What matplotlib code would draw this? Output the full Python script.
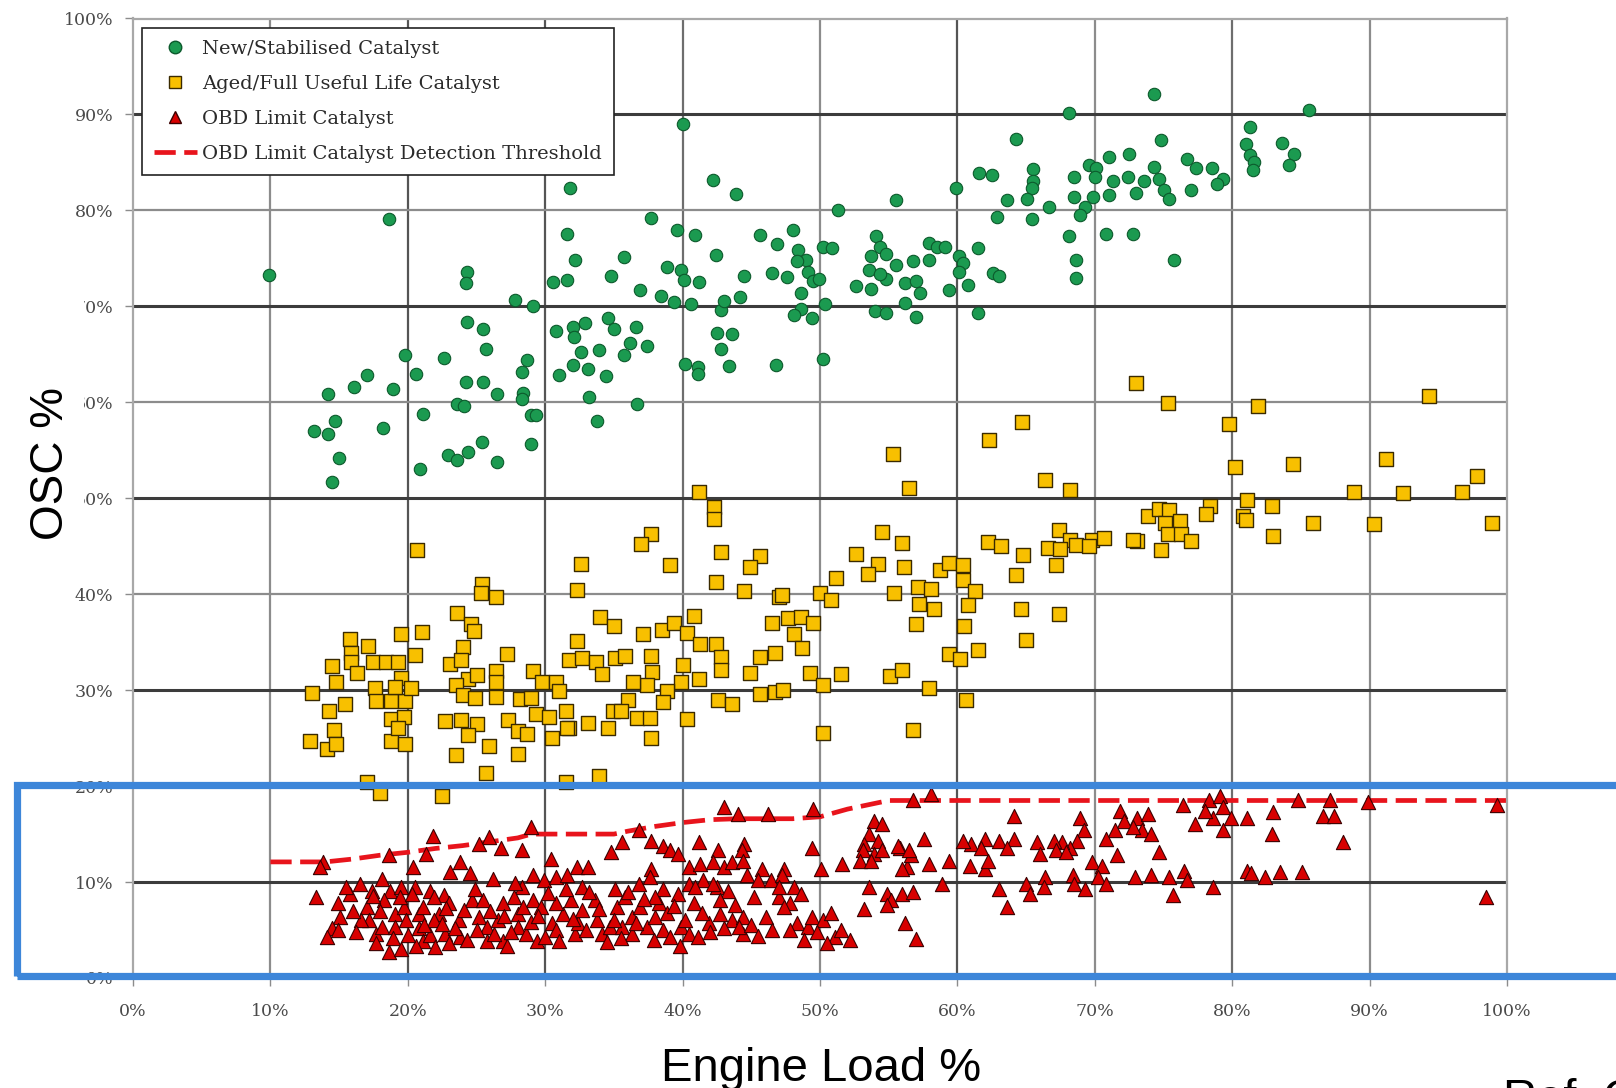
import numpy as np
import matplotlib.pyplot as plt
from matplotlib.lines import Line2D
from matplotlib.patches import Rectangle

# (engine load %, OSC %) pairs for each catalyst condition
new_cat = np.array([
    (40.0, 89.0), (31.8, 82.3), (18.6, 79.1), (9.9, 73.3), (42.2, 83.2), (43.9, 81.7), (37.7, 79.2),
    (39.6, 78.0), (40.9, 77.4), (31.6, 77.5), (32.2, 74.8), (35.7, 75.1), (34.8, 73.2), (30.6, 72.5),
    (31.6, 72.7), (42.4, 75.4), (38.9, 74.1), (39.9, 73.8), (40.1, 72.7), (41.2, 72.5), (36.9, 71.7),
    (38.4, 71.1), (39.4, 70.5), (40.6, 70.2), (42.8, 69.6), (43.0, 70.6), (44.2, 71.0), (44.5, 73.2),
    (42.5, 67.2), (43.6, 67.1), (42.8, 65.6), (43.4, 63.8), (40.2, 64.0), (41.1, 63.7), (41.1, 63.0),
    (24.3, 73.6), (24.2, 72.4), (27.8, 70.7), (29.1, 70.0), (24.3, 68.4), (25.5, 67.6), (25.7, 65.6),
    (30.8, 67.4), (32.0, 67.8), (32.9, 68.3), (32.1, 66.8), (34.6, 68.8), (35.0, 67.6), (36.6, 67.8),
    (36.2, 66.2), (37.4, 65.9), (35.7, 64.9), (32.6, 65.2), (33.9, 65.4), (32.0, 63.9), (33.1, 63.5),
    (31.0, 62.8), (34.4, 62.7), (33.2, 60.6), (33.8, 58.1), (36.7, 59.8), (28.7, 64.4), (28.3, 63.2),
    (28.4, 61.0), (28.3, 60.3), (29.0, 58.7), (29.3, 58.7), (29.0, 55.7), (26.5, 60.9), (25.5, 62.1),
    (24.2, 62.1), (23.6, 59.8), (24.1, 59.6), (22.6, 64.6), (21.1, 58.8), (20.6, 63.0), (19.8, 64.9),
    (18.9, 61.4), (18.2, 57.3), (17.0, 62.8), (16.1, 61.6), (14.2, 60.9), (14.7, 58.1), (14.2, 56.7),
    (13.2, 57.0), (15.0, 54.2), (14.5, 51.7), (20.9, 53.0), (22.9, 54.5), (23.6, 54.0), (24.4, 54.8),
    (25.4, 55.9), (26.5, 53.8),
    (74.3, 92.1), (68.1, 90.2), (85.6, 90.5), (64.3, 87.4), (74.8, 87.3), (81.3, 88.7), (81.0, 86.9),
    (81.3, 85.8), (81.6, 85.0), (81.5, 84.2), (83.6, 87.0), (84.5, 85.9), (84.1, 84.7), (61.6, 83.9),
    (62.5, 83.7), (65.5, 84.3), (65.5, 83.1), (65.4, 82.3), (65.1, 81.2), (63.6, 81.1), (66.7, 80.4),
    (59.9, 82.3), (62.9, 79.3), (65.4, 79.1), (68.5, 83.5), (69.6, 84.7), (70.1, 84.4), (70.0, 83.5),
    (71.0, 85.6), (72.5, 85.9), (71.3, 83.1), (71.0, 81.6), (69.9, 81.4), (68.5, 81.4), (69.3, 80.4),
    (68.9, 79.5), (72.4, 83.5), (73.0, 81.8), (73.6, 83.1), (74.3, 84.5), (74.7, 83.3), (75.0, 82.1),
    (75.4, 81.2), (76.7, 85.4), (77.4, 84.4), (78.5, 84.4), (79.3, 83.3), (78.9, 82.7), (77.0, 82.1),
    (68.1, 77.3), (68.6, 74.8), (68.6, 73.0), (70.8, 77.5), (72.8, 77.5), (75.8, 74.8),
    (51.3, 80.0), (55.5, 81.1), (45.6, 77.4), (48.0, 78.0), (46.9, 76.5), (48.4, 75.9), (49.0, 74.8),
    (48.3, 74.7), (49.1, 73.6), (49.5, 72.6), (49.9, 72.8), (50.2, 76.2), (50.9, 76.1), (46.5, 73.5),
    (47.6, 73.1), (48.6, 71.4), (48.6, 69.7), (48.1, 69.1), (49.4, 68.8), (50.4, 70.2), (46.8, 63.9),
    (50.2, 64.5), (54.1, 77.3), (54.4, 76.2), (53.7, 75.2), (54.8, 75.5), (55.5, 74.3), (53.6, 73.8),
    (54.8, 72.8), (54.4, 73.4), (52.6, 72.1), (53.7, 71.8), (56.2, 72.4), (57.0, 72.6), (57.3, 71.4),
    (56.2, 70.3), (54.0, 69.5), (54.8, 69.3), (57.0, 68.9), (57.9, 76.6), (58.5, 76.2), (59.1, 76.2),
    (57.9, 74.8), (56.8, 74.7), (60.1, 75.2), (60.4, 74.5), (60.1, 73.6), (59.4, 71.7), (60.8, 72.2),
    (61.5, 76.1), (62.6, 73.5), (63.0, 73.2), (61.5, 69.3),
])

aged_cat = np.array([
    (41.2, 50.6), (42.3, 49.1), (42.3, 47.8), (37.7, 46.3), (37.0, 45.2), (20.7, 44.6), (32.6, 43.1),
    (39.1, 43.0), (42.8, 44.4), (45.6, 44.0), (44.9, 42.8), (42.4, 41.3), (44.5, 40.3), (47.0, 39.7),
    (32.3, 40.4), (25.4, 41.1), (25.3, 40.1), (26.4, 39.7), (23.6, 38.0), (24.6, 36.9), (24.8, 36.2),
    (19.5, 35.9), (21.0, 36.1), (15.8, 35.3), (17.1, 34.6), (15.9, 33.9), (15.9, 32.9), (14.5, 32.5),
    (16.3, 31.8), (17.5, 32.9), (18.4, 32.9), (19.3, 32.9), (19.5, 31.3), (20.5, 33.7), (14.8, 30.8),
    (13.0, 29.7), (14.3, 27.8), (15.4, 28.6), (14.6, 25.8), (12.9, 24.7), (14.1, 23.9), (14.8, 24.4),
    (17.6, 30.2), (17.7, 28.9), (18.8, 28.9), (19.8, 28.9), (19.1, 30.3), (20.2, 30.2), (18.8, 27.0),
    (19.7, 27.2), (18.8, 24.7), (19.8, 24.4), (19.3, 26.1), (24.0, 34.5), (23.1, 32.7), (23.9, 33.1),
    (27.2, 33.8), (24.4, 31.2), (25.0, 31.6), (23.5, 30.5), (24.0, 29.5), (24.9, 29.2), (26.4, 32.0),
    (26.4, 30.8), (26.4, 29.3), (22.7, 26.8), (23.9, 26.9), (25.0, 26.5), (24.4, 25.3), (23.5, 23.2),
    (25.9, 24.2), (25.7, 21.4), (28.0, 23.3), (27.3, 26.9), (28.0, 25.7), (28.2, 29.1), (29.0, 29.2),
    (29.1, 32.0), (29.8, 30.9), (29.3, 27.5), (30.3, 27.2), (30.8, 30.9), (31.0, 29.9), (31.5, 27.8),
    (31.7, 26.1), (30.5, 25.0), (28.7, 25.4), (31.7, 33.1), (32.7, 33.3), (33.7, 32.9), (34.0, 37.6),
    (35.0, 36.7), (35.1, 33.4), (35.8, 33.6), (34.1, 31.7), (32.3, 35.1), (37.1, 35.9), (38.5, 36.3),
    (39.4, 37.0), (40.8, 37.7), (40.3, 36.0), (41.3, 34.8), (42.4, 34.8), (42.8, 33.5), (42.8, 32.1),
    (40.0, 32.6), (39.9, 30.9), (41.2, 31.2), (38.9, 29.9), (37.7, 33.6), (37.8, 31.9), (37.4, 30.5),
    (36.4, 30.9), (36.0, 29.0), (34.9, 27.8), (35.5, 27.8), (36.7, 27.1), (37.6, 27.1), (38.6, 28.8),
    (34.6, 26.1), (33.1, 26.6), (31.6, 26.1), (40.3, 27.0), (37.7, 25.0), (42.6, 29.0), (43.6, 28.6),
    (44.9, 31.8), (45.6, 33.5), (46.7, 33.9), (47.7, 37.5), (46.5, 37.0), (45.6, 29.6), (46.7, 29.8),
    (47.3, 30.0), (48.1, 35.8), (17.0, 20.4), (18.0, 19.3), (22.5, 19.0), (31.5, 20.4), (33.9, 21.1),
    (73.0, 62.0), (75.3, 59.9), (81.9, 59.6), (79.8, 57.7), (94.3, 60.7), (64.7, 57.9), (62.3, 56.1),
    (55.3, 54.6), (56.5, 51.1), (66.4, 51.9), (68.2, 50.9), (80.2, 53.3), (84.4, 53.6), (91.2, 54.1),
    (88.9, 50.7), (92.4, 50.5), (96.7, 50.6), (97.8, 52.3), (82.9, 49.2), (81.1, 49.8), (80.8, 48.2),
    (81.0, 47.7), (78.4, 49.2), (78.1, 48.4), (85.9, 47.4), (90.3, 47.3), (98.9, 47.4), (83.0, 46.1),
    (73.9, 48.2), (74.7, 48.9), (75.4, 48.8), (75.1, 47.4), (76.2, 47.6), (75.3, 46.3), (76.3, 46.3),
    (77.0, 45.5), (74.8, 44.6), (73.1, 45.5), (72.8, 45.7), (67.4, 46.7), (68.2, 45.6), (68.6, 45.1),
    (66.6, 44.8), (67.5, 44.7), (69.8, 45.6), (70.7, 45.9), (67.2, 43.0), (69.6, 45.0), (62.2, 45.4),
    (63.2, 45.0), (64.8, 44.1), (64.3, 42.0), (64.6, 38.5), (65.0, 35.2), (67.4, 37.9), (54.5, 46.5),
    (56.0, 45.3), (52.6, 44.2), (54.2, 43.1), (53.5, 42.1), (51.2, 41.7), (56.1, 42.8), (58.7, 42.5),
    (59.4, 43.2), (60.4, 43.0), (60.4, 41.5), (61.3, 40.3), (57.1, 40.8), (58.1, 40.5), (57.2, 39.0),
    (58.3, 38.5), (60.8, 38.9), (55.4, 40.1), (50.0, 40.1), (50.8, 39.4), (47.2, 39.9), (48.6, 37.6),
    (49.5, 37.0), (48.7, 34.4), (60.5, 36.7), (59.4, 33.8), (60.2, 33.2), (61.5, 34.2), (49.3, 31.8),
    (51.5, 31.7), (50.2, 30.5), (55.1, 31.5), (56.0, 32.1), (57.9, 30.2), (60.6, 29.0), (50.2, 25.5),
    (56.8, 25.8), (57.0, 36.9),
])

obd_cat = np.array([
    (43.0, 17.8), (44.0, 17.1), (46.2, 17.1), (49.5, 17.6), (29.0, 15.7), (21.8, 14.8), (25.9, 14.7),
    (25.2, 14.0), (26.8, 13.5), (28.3, 13.3), (36.8, 15.4), (35.6, 14.2), (34.8, 13.1), (37.7, 14.3),
    (38.6, 13.8), (39.1, 13.3), (39.7, 12.9), (41.2, 14.2), (42.6, 13.3), (44.5, 14.0), (44.3, 13.3),
    (49.4, 13.5), (13.8, 12.1), (13.6, 11.6), (18.6, 12.8), (21.3, 12.9), (20.4, 11.6), (23.8, 12.1),
    (24.5, 10.9), (23.1, 11.0), (30.4, 12.4), (32.3, 11.6), (33.1, 11.6), (37.7, 11.4), (40.5, 11.6),
    (41.3, 11.9), (42.2, 12.1), (43.0, 11.6), (43.6, 12.1), (44.4, 12.2), (45.8, 11.4), (47.4, 11.4),
    (50.1, 11.4), (51.6, 11.9), (13.3, 8.4), (16.5, 9.8), (18.1, 10.3), (17.4, 9.1), (18.7, 9.1),
    (19.5, 9.5), (20.5, 9.5), (21.6, 9.1), (22.6, 8.6), (26.2, 10.3), (28.3, 9.5), (29.1, 10.7),
    (29.9, 10.2), (30.8, 10.5), (31.6, 10.7), (32.7, 9.5), (35.1, 9.3), (36.8, 9.8), (37.6, 10.5),
    (38.6, 9.3), (39.7, 8.8), (40.8, 7.8), (40.5, 9.8), (41.5, 10.2), (42.5, 9.5), (43.3, 9.1),
    (44.7, 10.7), (45.5, 10.2), (46.4, 10.2), (47.2, 10.7), (48.1, 9.5), (48.6, 8.8), (47.8, 7.8),
    (47.0, 8.4), (14.9, 7.8), (15.1, 6.4), (14.5, 5.2), (14.1, 4.3), (17.0, 7.4), (17.2, 6.0),
    (17.7, 4.6), (17.7, 3.6), (18.6, 2.7), (18.1, 5.3), (19.1, 6.7), (19.7, 7.4), (19.9, 6.0),
    (20.8, 6.7), (20.8, 5.2), (21.1, 3.9), (20.6, 3.3), (21.6, 4.5), (21.9, 8.4), (22.3, 6.7),
    (22.7, 4.6), (23.0, 3.6), (23.7, 6.0), (23.8, 4.3), (24.7, 8.1), (25.2, 6.4), (25.8, 5.3),
    (25.8, 3.9), (26.6, 6.0), (26.9, 3.9), (27.2, 3.3), (28.0, 6.7), (28.0, 5.3), (28.6, 4.6),
    (29.4, 3.9), (29.1, 8.1), (29.7, 7.4), (30.5, 5.7), (30.8, 5.0), (31.3, 6.7), (32.2, 4.6),
    (32.4, 5.7), (32.7, 7.1), (33.8, 6.0), (34.1, 4.6), (34.7, 5.3), (35.2, 7.4), (35.6, 5.3),
    (36.3, 6.4), (36.3, 4.6), (36.9, 7.4), (37.4, 5.3), (38.0, 6.4), (38.6, 5.0), (39.1, 4.3),
    (39.8, 3.3), (39.9, 5.3), (40.5, 4.6), (41.1, 4.3), (42.7, 6.7), (43.6, 6.0), (44.4, 6.4),
    (44.4, 4.6), (46.1, 6.4), (47.4, 7.4), (48.3, 5.7), (49.1, 5.3), (49.4, 6.4), (50.2, 6.0),
    (51.1, 4.3), (15.8, 8.8), (18.3, 8.1), (19.4, 8.4), (21.1, 7.4), (23.0, 7.8), (24.1, 7.1),
    (26.9, 7.8), (27.7, 8.4), (30.8, 7.8), (31.9, 8.1), (33.6, 8.1), (35.8, 8.4), (38.3, 7.8),
    (42.7, 8.1), (45.2, 8.4), (38.0, 8.4), (41.9, 5.7), (44.1, 5.3), (25.5, 8.1), (21.9, 6.0),
    (16.6, 6.0), (14.9, 5.0), (19.1, 5.3),
    (15.5, 9.5), (16.0, 7.0), (16.2, 4.8), (17.5, 8.5), (18.0, 7.0), (18.9, 4.2), (19.5, 3.0),
    (20.3, 8.8), (20.0, 4.5), (21.2, 5.5), (22.0, 3.2), (22.5, 5.6), (22.8, 7.3), (23.4, 5.2),
    (24.3, 4.0), (24.9, 9.3), (25.0, 5.0), (26.0, 7.0), (26.3, 4.6), (27.0, 6.5), (27.5, 4.8),
    (27.8, 9.9), (28.4, 7.4), (29.0, 5.8), (29.5, 6.5), (30.0, 4.3), (30.2, 8.9), (31.0, 3.9),
    (31.5, 9.3), (32.0, 6.2), (33.0, 5.0), (33.2, 9.0), (33.9, 7.2), (34.5, 3.8), (35.0, 6.0),
    (35.5, 4.2), (36.0, 9.0), (36.6, 5.7), (37.2, 8.2), (37.9, 4.0), (38.9, 6.8), (39.4, 7.5),
    (40.2, 6.0), (40.9, 9.5), (41.4, 6.8), (42.0, 4.8), (42.2, 9.8), (43.0, 5.2), (43.8, 7.6),
    (45.0, 5.5), (45.5, 4.4), (46.5, 5.0), (47.0, 9.5), (47.8, 5.0), (48.8, 4.0), (49.8, 4.8),
    (50.5, 3.6), (50.8, 6.8), (51.5, 5.0), (52.2, 4.0),
    (58.1, 19.2), (56.8, 18.5), (76.4, 18.0), (78.3, 18.5), (79.1, 19.0), (79.3, 17.8), (78.6, 16.7),
    (79.9, 16.7), (77.3, 16.0), (78.0, 17.4), (81.1, 16.7), (83.0, 17.3), (84.8, 18.5), (87.1, 18.5),
    (86.6, 16.9), (87.4, 16.9), (89.9, 18.3), (99.3, 18.0), (71.8, 17.4), (72.1, 16.4), (71.5, 15.4),
    (70.8, 14.5), (73.1, 16.7), (73.9, 17.1), (73.4, 15.4), (74.1, 15.0), (72.8, 15.7), (68.9, 16.7),
    (69.2, 15.4), (68.7, 14.3), (68.2, 13.6), (67.6, 14.2), (64.1, 16.9), (64.1, 14.5), (63.0, 14.3),
    (62.0, 14.5), (61.0, 14.0), (60.4, 14.3), (61.7, 13.6), (63.6, 13.6), (65.8, 14.2), (66.0, 12.9),
    (67.0, 14.3), (67.2, 13.3), (67.9, 13.1), (82.9, 15.0), (79.3, 15.4), (88.1, 14.2), (71.6, 12.8),
    (74.7, 13.1), (69.8, 12.1), (70.5, 11.7), (60.9, 11.7), (62.0, 11.4), (62.2, 12.2), (59.4, 12.2),
    (57.9, 11.9), (56.3, 11.6), (56.6, 12.8), (55.8, 13.6), (57.6, 14.5), (53.9, 16.4), (54.5, 16.1),
    (53.6, 15.0), (54.2, 14.3), (53.2, 14.0), (53.1, 13.3), (53.9, 12.9), (54.5, 13.3), (52.9, 12.2),
    (53.7, 12.2), (55.7, 13.8), (56.5, 13.3), (56.0, 11.4), (58.9, 9.8), (53.6, 9.5), (54.9, 8.8),
    (55.2, 8.1), (56.0, 8.8), (56.8, 9.0), (53.2, 7.2), (54.9, 7.6), (56.2, 5.7), (57.0, 4.1),
    (63.0, 9.3), (63.6, 7.4), (65.0, 9.8), (65.3, 8.8), (66.4, 10.5), (66.3, 9.5), (68.4, 10.7),
    (68.5, 9.8), (69.3, 9.3), (70.2, 10.5), (70.8, 9.8), (72.9, 10.5), (74.1, 10.7), (75.4, 10.5),
    (76.5, 11.2), (75.7, 8.6), (76.7, 10.2), (78.6, 9.5), (81.1, 11.2), (81.4, 10.9), (82.4, 10.5),
    (83.5, 11.0), (85.1, 11.0), (98.5, 8.4),
])

# detection threshold for the OBD limit catalyst
threshold_load = [10, 14, 16, 18, 20, 22, 24, 26, 28, 29, 35, 36, 38, 40, 42, 44, 48, 50, 52, 54, 55, 100]
threshold_osc = [12.1, 12.1, 12.4, 12.8, 13.1, 13.5, 13.8, 14.2, 14.6, 15.0, 15.0, 15.3, 15.8, 16.2,
                 16.5, 16.6, 16.6, 16.8, 17.6, 18.2, 18.5, 18.5]

ticks = list(range(0, 101, 10))
tick_labels = [f'{t}%' for t in ticks]

W, H = 1616, 1088
fig = plt.figure(figsize=(W / 100, H / 100), dpi=100)
ax = fig.add_axes([133 / W, 1 - 978 / H, 1374 / W, 959.5 / H])
ax.set_xlim(0, 100)
ax.set_ylim(0, 100)

# grid: odd horizontal lines are heavier
vcol = {10: '#8c8c8c', 20: '#555555', 30: '#555555', 40: '#6e6e6e', 50: '#8c8c8c',
        60: '#555555', 70: '#8c8c8c', 80: '#6e6e6e', 90: '#8c8c8c'}
for v, c in vcol.items():
    ax.axvline(v, color=c, lw=1.6, zorder=0.5)
for h in range(10, 100, 10):
    dark = (h // 10) % 2 == 1
    ax.axhline(h, color='#3c3c3c' if dark else '#8c8c8c', lw=2.2 if dark else 1.6, zorder=0.5)

for s in ax.spines.values():
    s.set_color('#a8a8a8')
    s.set_linewidth(1.6)

ax.plot(threshold_load, threshold_osc, color='#e8141c', lw=3.4, ls=(0, (4.5, 1.8)), zorder=2.5)

ax.scatter(new_cat[:, 0], new_cat[:, 1], s=80, marker='o', c='#1b9a50',
           edgecolors='#0c5a2c', linewidths=0.8, zorder=3)
ax.scatter(aged_cat[:, 0], aged_cat[:, 1], s=92, marker='s', c='#f8c000',
           edgecolors='#3a2a00', linewidths=1.0, zorder=3)
ax.scatter(obd_cat[:, 0], obd_cat[:, 1], s=105, marker='^', c='#d80000',
           edgecolors='#3a0000', linewidths=0.8, zorder=3)

serif = 'DejaVu Serif'
ax.set_xticks(ticks)
ax.set_xticklabels(tick_labels)
ax.set_yticks(ticks)
ax.set_yticklabels(tick_labels)
ax.tick_params(direction='out', length=6, width=1, color='#8c8c8c', labelcolor='#4a4a4a',
               labelsize=12.5)
ax.tick_params(axis='y', pad=8)
ax.tick_params(axis='x', pad=12)
for lab in ax.get_xticklabels() + ax.get_yticklabels():
    lab.set_family(serif)

handles = [
    Line2D([], [], ls='none', marker='o', ms=9, mfc='#1b9a50', mec='#0c5a2c'),
    Line2D([], [], ls='none', marker='s', ms=9, mfc='#f8c000', mec='#3a2a00'),
    Line2D([], [], ls='none', marker='^', ms=9, mfc='#d80000', mec='#3a0000'),
    Line2D([], [], color='#e8141c', lw=3.4, ls=(0, (4.5, 1.8))),
]
labels = ['New/Stabilised Catalyst', 'Aged/Full Useful Life Catalyst',
          'OBD Limit Catalyst', 'OBD Limit Catalyst Detection Threshold']
leg = ax.legend(handles, labels, loc='upper left', bbox_to_anchor=(0.0066, 0.990),
                borderaxespad=0, frameon=True, fancybox=False, framealpha=1,
                edgecolor='#222222', prop={'family': serif, 'size': 14},
                handlelength=2.2, handletextpad=0.3, labelspacing=0.88, borderpad=0.6)
leg.get_frame().set_linewidth(1.2)
leg.set_zorder(5)
for t in leg.get_texts():
    t.set_color('#2a2a2a')

# axis titles
fig.add_artist(Rectangle((20 / W, 1 - 512 / H), 64 / W, 222 / H, transform=fig.transFigure,
                         facecolor='white', edgecolor='none', zorder=6))
fig.text(51 / W, 1 - 464 / H, 'OSC %', rotation=90, ha='center', va='center',
         fontsize=33, family='Liberation Sans', zorder=7)
fig.text(821 / W, 1 - 1069 / H, 'Engine Load %', ha='center', va='center',
         fontsize=34, family='Liberation Sans', zorder=7)
fig.text(1503 / W, 1 - 1078 / H, 'Ref. C', ha='left', va='top',
         fontsize=34, family='Liberation Sans', zorder=7)

# highlight box around the OBD limit band
fig.add_artist(Rectangle((16.6 / W, 1 - 975.5 / H), 1700 / W, 190.5 / H, transform=fig.transFigure,
                         fill=False, edgecolor='#3d86d9', lw=5.2, zorder=10))

fig.savefig('out.png', dpi=100)
